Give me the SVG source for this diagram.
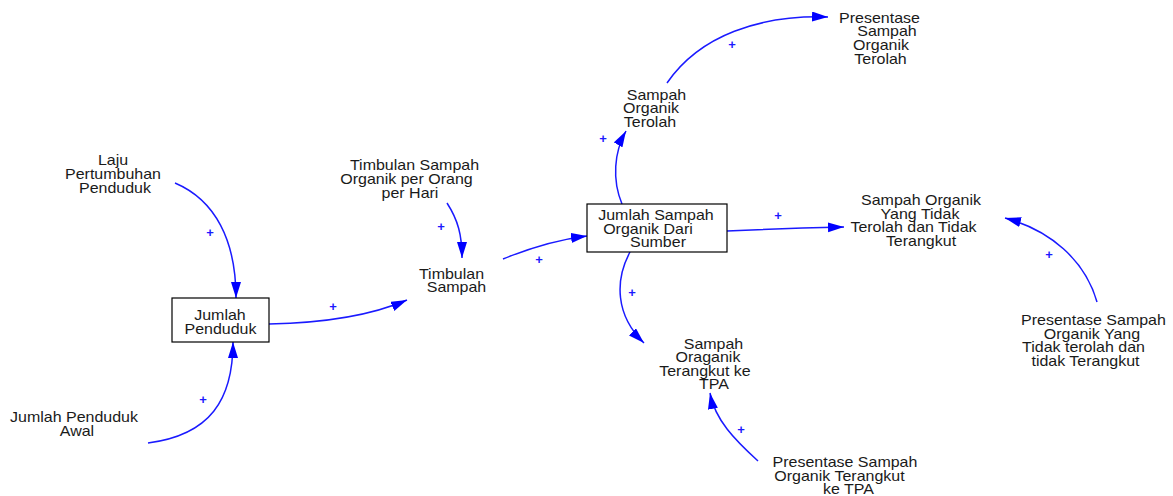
<svg xmlns="http://www.w3.org/2000/svg" width="1173" height="496" viewBox="0 0 1173 496">
<style>
text{font-family:"Liberation Sans",Arial,sans-serif;font-size:16px;fill:#1a1a1a;text-anchor:middle}
.lb text{transform-box:fill-box;transform-origin:center;transform:scaleY(0.86)}
.box{fill:#fff;stroke:#000;stroke-width:1.2}
.lk{fill:none;stroke:#1a1aff;stroke-width:1.5;marker-end:url(#ah)}
.pl{fill:#1a1aff;font-size:13px;font-weight:bold}
</style>
<defs>
<marker id="ah" markerUnits="userSpaceOnUse" markerWidth="17" markerHeight="11" refX="16" refY="5" orient="auto">
<path d="M0,0 L16,5 L0,10 z" fill="#0000ff"/>
</marker>
</defs>
<rect width="1173" height="496" fill="#fff"/>
<g id="connectors">
<path class="lk" d="M175,183 C215,200 236,240 236,298"/>
<path class="lk" d="M148,443 C210,435 233,400 233,342"/>
<path class="lk" d="M269,324 C320,323 370,316 407,300"/>
<path class="lk" d="M447,203 C458,220 462,235 462,258"/>
<path class="lk" d="M503,259 C530,248 555,240 587,236"/>
<path class="lk" d="M622,204 C612,180 614,152 626,131"/>
<path class="lk" d="M667,83 C700,35 760,15 828,17"/>
<path class="lk" d="M727,231 C770,229 800,228 844,227"/>
<path class="lk" d="M1097,302 C1085,260 1050,230 1005,218"/>
<path class="lk" d="M630,252 C615,280 615,315 644,343"/>
<path class="lk" d="M758,461 C735,440 715,420 710,393"/>
<text class="pl" x="210" y="237">+</text>
<text class="pl" x="203" y="404">+</text>
<text class="pl" x="333" y="311">+</text>
<text class="pl" x="441" y="231">+</text>
<text class="pl" x="539" y="264">+</text>
<text class="pl" x="603" y="143">+</text>
<text class="pl" x="732" y="49">+</text>
<text class="pl" x="778" y="220">+</text>
<text class="pl" x="1049" y="259">+</text>
<text class="pl" x="632" y="297">+</text>
<text class="pl" x="741" y="434">+</text>
</g>
<g id="laju" class="lb">
<text x="113" y="166">Laju</text>
<text x="113" y="180">Pertumbuhan</text>
<text x="115" y="194">Penduduk</text>
</g>
<g id="jumlah-penduduk" class="lb">
<rect class="box" x="172" y="298" width="97" height="44"/>
<text x="220" y="321">Jumlah</text>
<text x="220.5" y="334.5">Penduduk</text>
</g>
<g id="jumlah-penduduk-awal" class="lb">
<text x="74" y="423">Jumlah Penduduk</text>
<text x="77" y="437">Awal</text>
</g>
<g id="timbulan-per-orang" class="lb">
<text x="414.5" y="171">Timbulan Sampah</text>
<text x="406.5" y="185">Organik per Orang</text>
<text x="410" y="199">per Hari</text>
</g>
<g id="timbulan-sampah" class="lb">
<text x="451.5" y="279.5">Timbulan</text>
<text x="456.5" y="293">Sampah</text>
</g>
<g id="jumlah-sampah" class="lb">
<rect class="box" x="587" y="204" width="140" height="48"/>
<text x="656" y="221">Jumlah Sampah</text>
<text x="648" y="234.5">Organik Dari</text>
<text x="658" y="248">Sumber</text>
</g>
<g id="sampah-terolah" class="lb">
<text x="656.5" y="100.5">Sampah</text>
<text x="651" y="114">Organik</text>
<text x="650" y="127.5">Terolah</text>
</g>
<g id="presentase-terolah" class="lb">
<text x="879.5" y="23.5">Presentase</text>
<text x="887" y="37">Sampah</text>
<text x="881" y="51">Organik</text>
<text x="880.5" y="64.5">Terolah</text>
</g>
<g id="tidak-terolah" class="lb">
<text x="921" y="206">Sampah Organik</text>
<text x="920" y="219.5">Yang Tidak</text>
<text x="913.5" y="233">Terolah dan Tidak</text>
<text x="921" y="246.5">Terangkut</text>
</g>
<g id="presentase-tidak-terolah" class="lb">
<text x="1093.5" y="326">Presentase Sampah</text>
<text x="1092" y="339.5">Organik Yang</text>
<text x="1083.5" y="353">Tidak terolah dan</text>
<text x="1085.5" y="366.5">tidak Terangkut</text>
</g>
<g id="terangkut-tpa" class="lb">
<text x="713.5" y="349.5">Sampah</text>
<text x="708" y="363">Oraganik</text>
<text x="705" y="376.5">Terangkut ke</text>
<text x="714" y="390">TPA</text>
</g>
<g id="presentase-terangkut" class="lb">
<text x="845" y="468">Presentase Sampah</text>
<text x="839.5" y="481.5">Organik Terangkut</text>
<text x="848.5" y="495">ke TPA</text>
</g>
</svg>
